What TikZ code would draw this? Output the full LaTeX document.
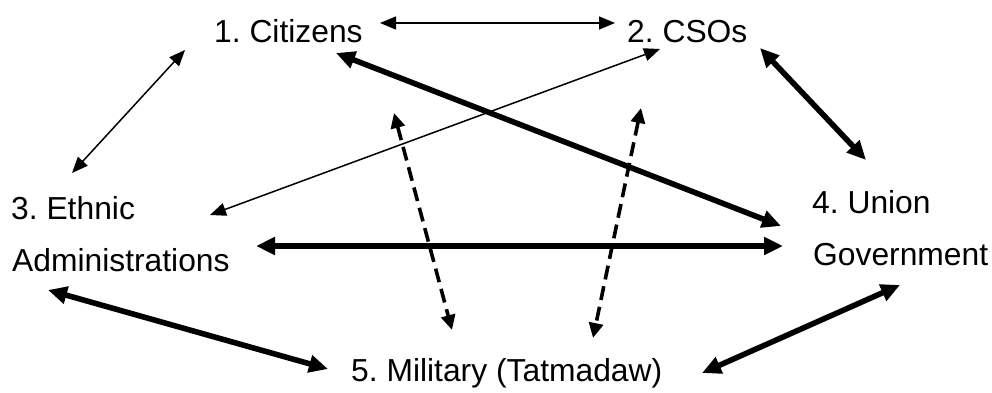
\documentclass[tikz,border=0pt]{standalone}
\usepackage{fontspec}
\setmainfont{Liberation Sans}
\usetikzlibrary{arrows.meta}
\frenchspacing
\begin{document}
\begin{tikzpicture}[x=1pt,y=-1pt,
 lbl/.style={anchor=base west,inner sep=0pt,font=\fontsize{31.8}{38}\selectfont\frenchspacing},
 thinarr/.style={line width=1.5pt,{Triangle[length=16pt,width=13pt]}-{Triangle[length=16pt,width=13pt]}},
 thickarr/.style={line width=5.6pt,{Triangle[length=19pt,width=17pt]}-{Triangle[length=19pt,width=17pt]}},
 dasharr/.style={line width=3.6pt,dash pattern=on 14pt off 7pt,{Triangle[length=15pt,width=14pt]}-{Triangle[length=15pt,width=14pt]}}]
\useasboundingbox (0,0) rectangle (992,393);
\node[lbl] (cit) at (214,43) {1. Citizens};
\node[lbl] (cso) at (627,43) {2. CSOs};
\node[lbl] (eth) at (11,219) {3. Ethnic};
\node[lbl] (eth2) at (12,271) {Administrations};
\node[lbl] (uni) at (812,213) {4. Union};
\node[lbl] (uni2) at (813,265) {Government};
\node[lbl] (mil) at (351,381) {5. Military (Tatmadaw)};
% thin
\draw[thinarr] ([shift={(166,-20)}]cit.base west) -- ([shift={(-12,-20)}]cso.base west);
\draw[thinarr] ([shift={(-29,7)}]cit.base west) -- ([shift={(61,-46)}]eth.base west);
\draw[thinarr] ([shift={(33,6)}]cso.base west) -- ([shift={(199,-4)}]eth.base west);
% thick
\draw[thickarr] ([shift={(122,10)}]cit.base west) -- ([shift={(-31,13)}]uni.base west);
\draw[thickarr] ([shift={(244,-25)}]eth2.base west) -- ([shift={(-30,-19)}]uni2.base west);
\draw[thickarr] ([shift={(133,5)}]cso.base west) -- ([shift={(54,-53)}]uni.base west);
\draw[thickarr] ([shift={(36,19)}]eth2.base west) -- ([shift={(-23,-12)}]mil.base west);
\draw[thickarr] ([shift={(87,20)}]uni2.base west) -- ([shift={(351,-8)}]mil.base west);
% dashed
\draw[dasharr] ([shift={(180,70)}]cit.base west) -- ([shift={(101,-51)}]mil.base west);
\draw[dasharr] ([shift={(14,65)}]cso.base west) -- ([shift={(242,-43)}]mil.base west);
\end{tikzpicture}
\end{document}
